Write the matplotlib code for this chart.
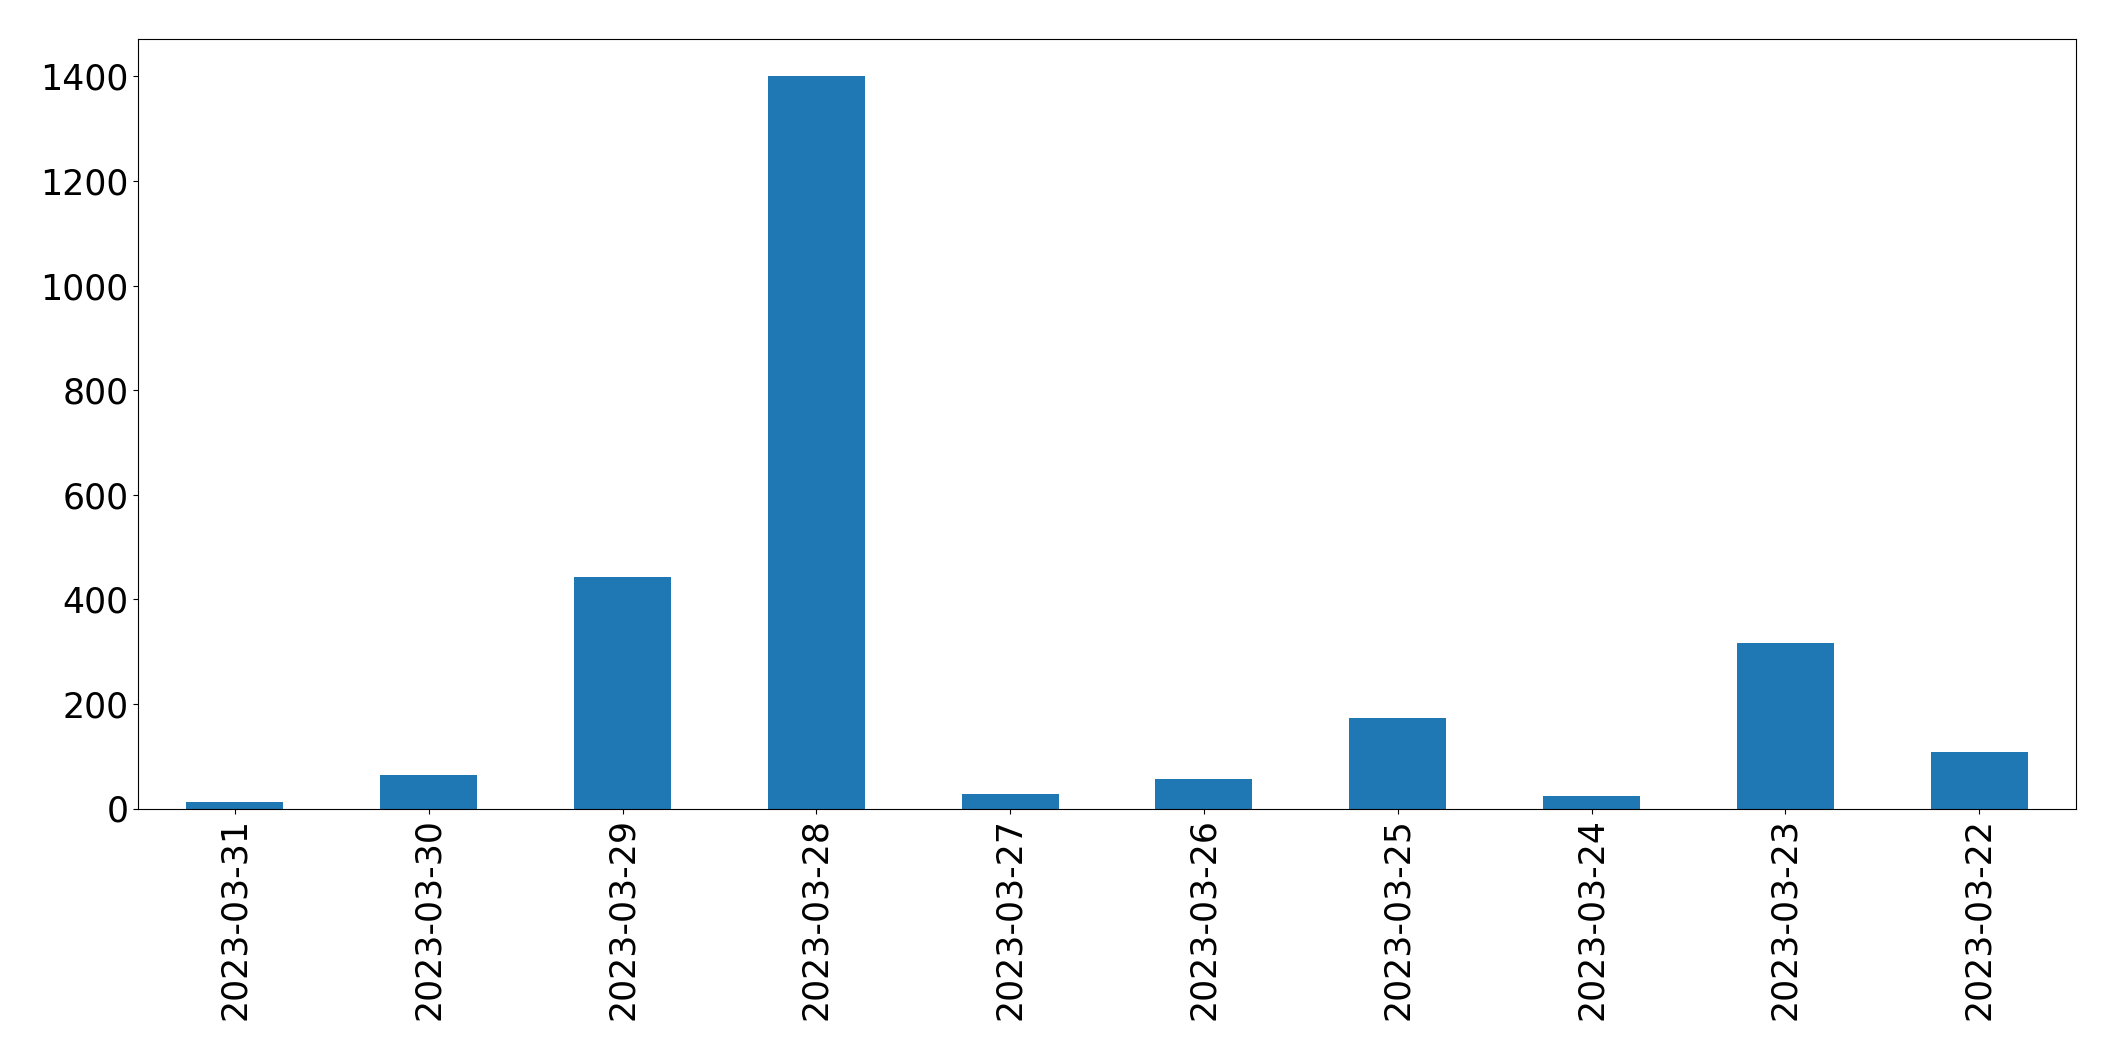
import matplotlib
matplotlib.use("Agg")
import matplotlib.pyplot as plt
import numpy as np

dates = ["2023-03-31", "2023-03-30", "2023-03-29", "2023-03-28", "2023-03-27",
         "2023-03-26", "2023-03-25", "2023-03-24", "2023-03-23", "2023-03-22"]
counts = [12, 64, 442, 1401, 27, 56, 174, 23, 316, 108]

fig = plt.figure(figsize=(21.15, 10.61), dpi=100)
ax = fig.add_axes([138/2115, 1 - 808.5/1061, (2076 - 138)/2115, (808.5 - 39.3)/1061])
x = np.arange(len(dates))
ax.bar(x, counts, width=0.5, color="#1f77b4")
ax.set_xlim(-0.5, len(dates) - 0.5)
ax.set_ylim(0, max(counts) * 1.05)
ax.set_xticks(x)
ax.set_xticklabels(dates, rotation=90, fontsize=25)
ax.tick_params(axis="y", labelsize=25)
fig.savefig("out.png", dpi=100)
